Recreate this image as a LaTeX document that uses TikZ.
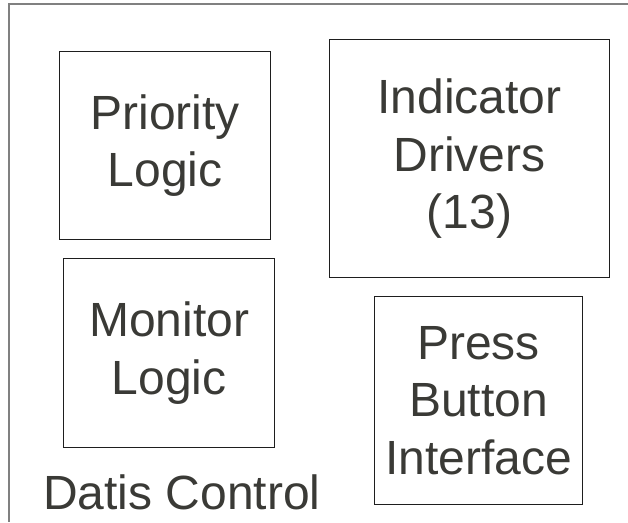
\documentclass[tikz,border=0pt]{standalone}
\usepackage{fontspec}
\setmainfont{Liberation Sans}
\definecolor{inktext}{RGB}{58,58,54}
\definecolor{boxline}{RGB}{30,30,30}
\definecolor{frameline}{RGB}{128,128,128}
\tikzset{
  block/.style={draw=boxline, line width=1.2pt, rectangle, inner sep=0pt,
    anchor=north west, align=center, text=inktext,
    font=\fontsize{48}{57.5}\selectfont},
  caption/.style={text=inktext, inner sep=0pt, anchor=base west,
    font=\fontsize{48}{57.5}\selectfont}
}
\begin{document}
\begin{tikzpicture}[x=1pt,y=-1pt]
  \useasboundingbox (0,0) rectangle (628,522);
  % open outer frame of the control unit
  \draw[frameline, line width=1.6pt] (628,4) -- (9,4) -- (9,522);
  % functional blocks
  \node[block, minimum width=211pt, minimum height=188pt] (prio) at (59,51) {Priority\\Logic};
  \node[block, minimum width=280pt, minimum height=238pt] (ind) at (329,39) {Indicator\\Drivers\\(13)};
  \node[block, minimum width=211pt, minimum height=189pt] (mon) at (63,258) {Monitor\\Logic};
  \node[block, minimum width=208pt, minimum height=208pt] (press) at (374,296) {Press\\Button\\Interface};
  % unit title
  \node[caption] (title) at (43,509) {Datis Control};
\end{tikzpicture}
\end{document}
